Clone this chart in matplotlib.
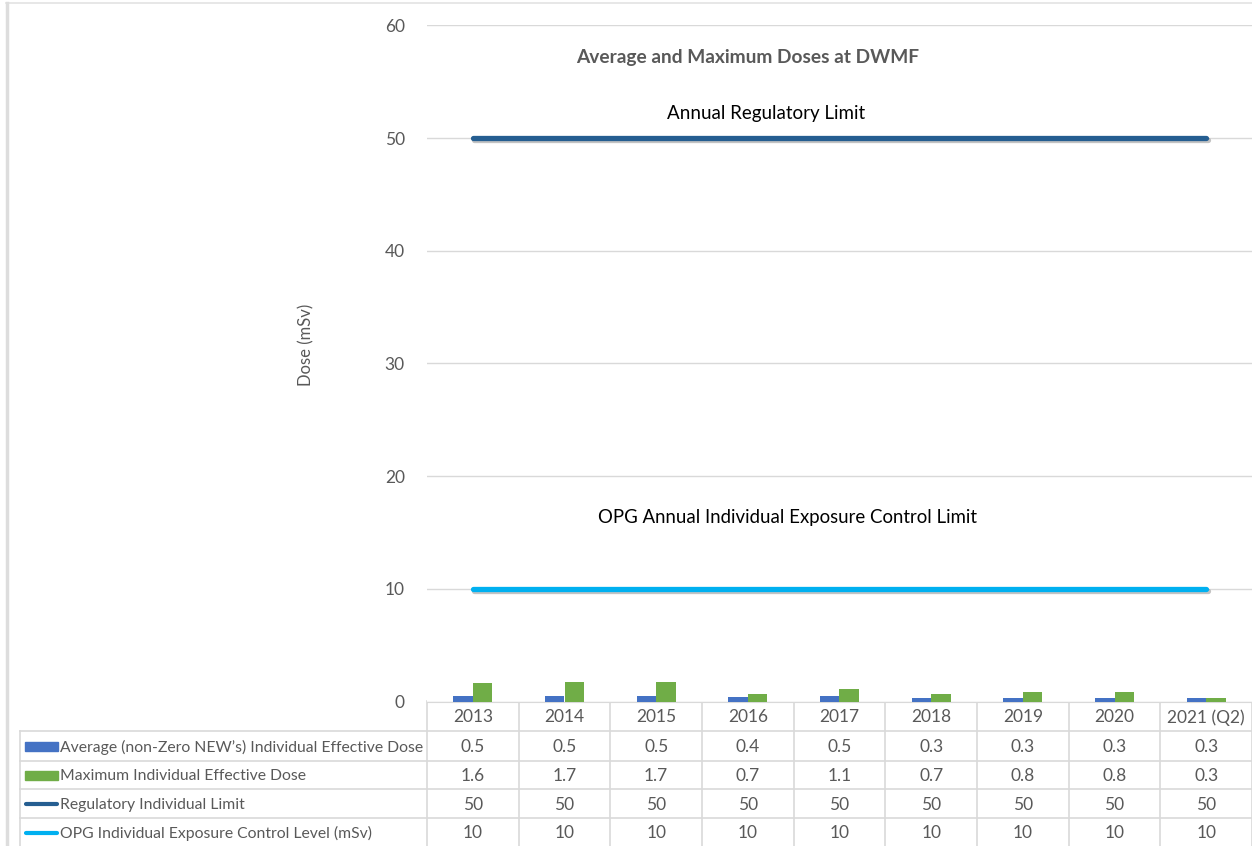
import numpy as np
import matplotlib.pyplot as plt
import matplotlib.patheffects as pe
from matplotlib.lines import Line2D
from matplotlib.patches import Rectangle

plt.rcParams['font.family'] = ['Lato', 'DejaVu Sans']

years = ['2013', '2014', '2015', '2016', '2017', '2018', '2019', '2020', '2021 (Q2)']
avg_dose = [0.5, 0.5, 0.5, 0.4, 0.5, 0.3, 0.3, 0.3, 0.3]
max_dose = [1.6, 1.7, 1.7, 0.7, 1.1, 0.7, 0.8, 0.8, 0.3]
reg_limit = [50, 50, 50, 50, 50, 50, 50, 50, 50]
opg_limit = [10, 10, 10, 10, 10, 10, 10, 10, 10]
series_names = ["Average (non-Zero NEW\u2019s) Individual Effective Dose",
                "Maximum Individual Effective Dose",
                "Regulatory Individual Limit",
                "OPG Individual Exposure Control Level (mSv)"]

c_avg = '#4472C4'
c_max = '#70AD47'
c_reg = '#255E91'
c_opg = '#00B0F0'
grey_txt = '#595959'
grid_c = '#D9D9D9'

W, H = 1252, 846
fig = plt.figure(figsize=(W / 100, H / 100), dpi=100)

# main plot area (pixel positions of the reference)
x0, x1 = 427, 1252
y_top, y_zero = 25.5, 701.5
ax = fig.add_axes([x0 / W, (H - y_zero) / H, (x1 - x0) / W, (y_zero - y_top) / H])

x = np.arange(len(years))
bw = 0.213
ax.bar(x - bw / 2, avg_dose, bw, color=c_avg, zorder=3)
ax.bar(x + bw / 2, max_dose, bw, color=c_max, zorder=3)

shadow = [pe.SimpleLineShadow(offset=(1, -1.5), alpha=0.35, shadow_color='#555555'), pe.Normal()]
ax.plot(x, reg_limit, color=c_reg, lw=3.8, solid_capstyle='round', zorder=4, path_effects=shadow)
ax.plot(x, opg_limit, color=c_opg, lw=3.8, solid_capstyle='round', zorder=4, path_effects=shadow)

ax.set_xlim(-0.5, len(years) - 0.5)
ax.set_ylim(0, 60)
ax.set_yticks(np.arange(0, 61, 10))
ax.yaxis.grid(True, color=grid_c, lw=1)
ax.set_axisbelow(True)
ax.set_xticks([])
ax.tick_params(axis='y', length=0, pad=16, labelsize=12.5, labelcolor=grey_txt)
for s in ['top', 'right', 'left']:
    ax.spines[s].set_visible(False)
ax.spines['bottom'].set_color(grid_c)

ax.set_ylabel('Dose (mSv)', fontsize=12, color=grey_txt, labelpad=0)
ax.yaxis.set_label_coords((314 - x0) / (x1 - x0), (y_zero - 345) / (y_zero - y_top))

ax.text(3.0, 57.2, 'Average and Maximum Doses at DWMF', ha='center', va='center',
        fontsize=13.8, fontweight='bold', color=grey_txt)
ax.text(3.2, 52.2, 'Annual Regulatory Limit', ha='center', va='center', fontsize=13.5, color='black')
ax.text(3.43, 16.3, 'OPG Annual Individual Exposure Control Limit', ha='center', va='center',
        fontsize=13.4, color='black')

# data table drawn in pixel coordinates
tab = fig.add_axes([0, 0, 1, 1], zorder=-1)
tab.set_xlim(0, W)
tab.set_ylim(H, 0)
tab.axis('off')

# chart border
tab.add_line(Line2D([6, W], [3, 3], color='#E3E3E3', lw=1.2))
tab.add_line(Line2D([6.5, 6.5], [3, H], color='#DDDDDD', lw=2.5))

colw = (x1 - x0) / len(years)
rows = [701.5, 731, 761, 789, 818, 846]
lc = '#D9D9D9'
for i in range(len(years) + 1):
    xv = x0 + i * colw
    tab.add_line(Line2D([xv, xv], [rows[0], H], color=lc, lw=1.2))
tab.add_line(Line2D([20, 20], [rows[1], H], color=lc, lw=1.2))
for r in rows[1:-1]:
    tab.add_line(Line2D([20, W], [r, r], color=lc, lw=1.2))

fs = 12.5
for i, yr in enumerate(years):
    tab.text(x0 + (i + 0.5) * colw, (rows[0] + rows[1]) / 2 + 1, yr, ha='center', va='center',
             fontsize=fs, color=grey_txt)

table_vals = [avg_dose, max_dose, reg_limit, opg_limit]
for k, vals in enumerate(table_vals):
    yc = (rows[k + 1] + rows[k + 2]) / 2 + 1
    for i, v in enumerate(vals):
        tab.text(x0 + (i + 0.5) * colw, yc, f'{v:g}', ha='center', va='center',
                 fontsize=fs, color=grey_txt)
    tab.text(60, yc, series_names[k], ha='left', va='center', fontsize=11.3, color=grey_txt)
    if k < 2:
        tab.add_patch(Rectangle((25, yc - 5), 33, 9, color=[c_avg, c_max][k]))
    else:
        tab.add_line(Line2D([26, 57], [yc, yc], color=[c_reg, c_opg][k - 2], lw=3,
                            solid_capstyle='round'))

fig.savefig('out.png', dpi=100)
